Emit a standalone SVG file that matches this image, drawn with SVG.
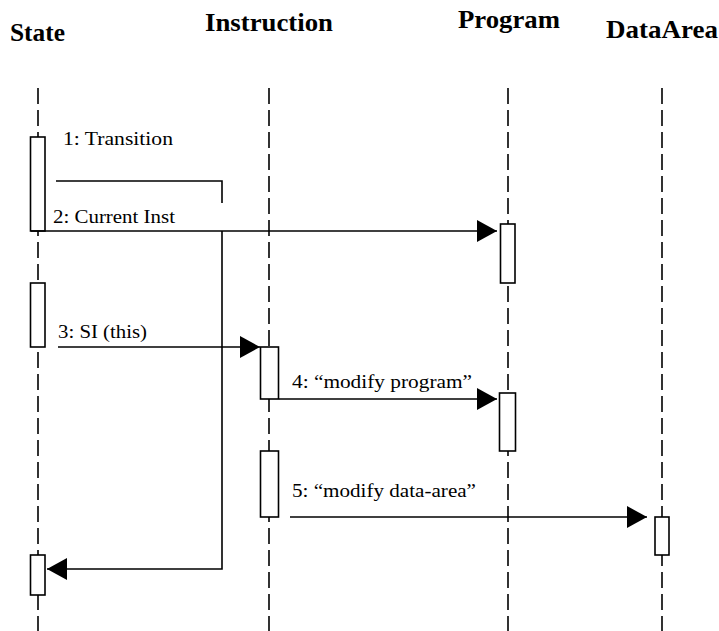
<svg xmlns="http://www.w3.org/2000/svg" width="719" height="631" viewBox="0 0 719 631">
<style>
.hdr{font-family:"Liberation Serif","Times New Roman",serif;font-weight:bold;font-size:25px;fill:#000}
.lbl{font-family:"Liberation Serif","Times New Roman",serif;font-size:18.5px;fill:#000}
.life{stroke:#000;stroke-width:1.6;stroke-dasharray:16 6;fill:none}
.act{fill:#fff;stroke:#000;stroke-width:1.6}
.msg{stroke:#000;stroke-width:1.6;fill:none}
</style>
<defs>
<marker id="ah" markerUnits="userSpaceOnUse" markerWidth="20" markerHeight="22" refX="20" refY="11" orient="auto">
<path d="M0,0 L20,11 L0,22 Z" fill="#000"/>
</marker>
</defs>
<rect width="719" height="631" fill="#fff"/>
<g id="State">
<text class="hdr" x="10" y="41" textLength="55" lengthAdjust="spacingAndGlyphs">State</text>
<line class="life" x1="38" y1="88" x2="38" y2="631"/>
<rect class="act" x="30.5" y="137" width="14.5" height="94"/>
<rect class="act" x="30.5" y="283" width="14.5" height="64"/>
<rect class="act" x="30.5" y="555" width="14.5" height="40"/>
</g>
<g id="Instruction">
<text class="hdr" x="205" y="31" textLength="128" lengthAdjust="spacingAndGlyphs">Instruction</text>
<line class="life" x1="269" y1="88" x2="269" y2="631"/>
<rect class="act" x="260.5" y="347" width="18" height="52"/>
<rect class="act" x="260.5" y="451" width="18" height="66"/>
</g>
<g id="Program">
<text class="hdr" x="458" y="28" textLength="102" lengthAdjust="spacingAndGlyphs">Program</text>
<line class="life" x1="508" y1="88" x2="508" y2="631"/>
<rect class="act" x="500.5" y="224" width="14.5" height="59"/>
<rect class="act" x="499.5" y="393" width="16" height="58"/>
</g>
<g id="DataArea">
<text class="hdr" x="606" y="38" textLength="112" lengthAdjust="spacingAndGlyphs">DataArea</text>
<line class="life" x1="662" y1="88" x2="662" y2="631"/>
<rect class="act" x="655" y="517" width="14" height="38"/>
</g>
<g id="connectors">
<path class="msg" d="M56,181 H222 V203"/>
<path class="msg" d="M222,231 V569 H47" marker-end="url(#ah)"/>
<text class="lbl" x="63" y="145" textLength="110" lengthAdjust="spacingAndGlyphs">1: Transition</text>
<path class="msg" d="M31,231 H497" marker-end="url(#ah)"/>
<text class="lbl" x="53" y="223" textLength="122" lengthAdjust="spacingAndGlyphs">2: Current Inst</text>
<path class="msg" d="M58,347 H260" marker-end="url(#ah)"/>
<text class="lbl" x="58" y="338" textLength="89" lengthAdjust="spacingAndGlyphs">3: SI (this)</text>
<path class="msg" d="M279,399 H497" marker-end="url(#ah)"/>
<text class="lbl" x="292" y="388" textLength="180" lengthAdjust="spacingAndGlyphs">4: “modify program”</text>
<path class="msg" d="M290,517 H647" marker-end="url(#ah)"/>
<text class="lbl" x="292" y="497" textLength="184" lengthAdjust="spacingAndGlyphs">5: “modify data-area”</text>
</g>
</svg>
